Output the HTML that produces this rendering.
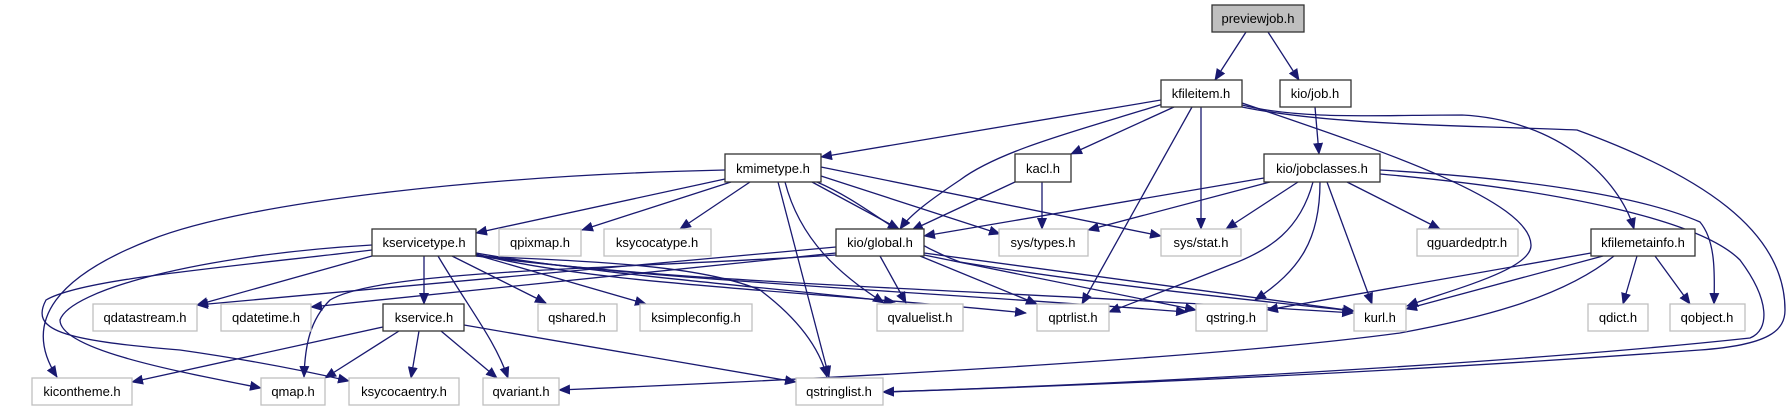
<!DOCTYPE html>
<html><head><meta charset="utf-8"><style>
html,body{margin:0;padding:0;background:#fff;width:1788px;height:411px;overflow:hidden}
svg text{font-family:"Liberation Sans",sans-serif;font-size:13px;fill:#000}
</style></head><body>
<svg width="1788" height="411" xmlns="http://www.w3.org/2000/svg">
<defs><marker id="a" markerWidth="12" markerHeight="10" refX="11" refY="5" orient="auto" markerUnits="userSpaceOnUse"><path d="M0,0 L12,5 L0,10 z" fill="#191970"/></marker></defs>
<g fill="none" stroke="#191970" stroke-width="1.3" marker-end="url(#a)">
<path d="M1246,32 L1215,80"/>
<path d="M1268,32 L1299,80"/>
<path d="M1315,107 L1319,154"/>
<path d="M1161,100 L821,157"/>
<path d="M1163,104 C1080,130 1000,150 960,180 C930,200 910,215 900,229"/>
<path d="M1174,107 L1071,154"/>
<path d="M1192,107 L1082,304"/>
<path d="M1201,107 L1201,229"/>
<path d="M1242,103 C1380,150 1530,200 1531,245 C1532,270 1450,290 1407,306"/>
<path d="M1242,105 C1300,120 1380,115 1462,115 C1560,120 1620,180 1634,229"/>
<path d="M1242,107 C1330,125 1450,125 1577,130 C1700,175 1785,230 1785,310 C1785,330 1770,345 1700,350 C1400,372 1100,385 883,392"/>
<path d="M1264,178 L924,236"/>
<path d="M1270,182 L1088,230"/>
<path d="M1298,182 L1226,229"/>
<path d="M1313,182 C1300,230 1270,250 1230,265 C1180,285 1140,300 1109,312"/>
<path d="M1320,182 C1320,240 1300,270 1255,300"/>
<path d="M1327,182 L1372,304"/>
<path d="M1347,182 L1440,229"/>
<path d="M1380,170 C1550,180 1650,200 1700,222 C1715,240 1715,270 1714,304"/>
<path d="M1380,174 C1560,190 1700,220 1740,260 C1770,300 1770,330 1750,338 C1500,365 1100,385 883,392"/>
<path d="M1591,253 L1267,310"/>
<path d="M1603,256 L1406,309"/>
<path d="M1614,256 C1560,300 1470,320 1400,333 C1200,360 800,380 559,390"/>
<path d="M1637,256 L1623,304"/>
<path d="M1655,256 L1690,304"/>
<path d="M1015,182 L912,230"/>
<path d="M1042,182 L1042,229"/>
<path d="M725,170 C500,175 250,200 150,240 C60,275 20,320 57,377"/>
<path d="M725,179 L476,233"/>
<path d="M731,182 L582,230"/>
<path d="M750,182 L680,229"/>
<path d="M778,182 L829,377"/>
<path d="M785,182 C800,240 840,275 884,303"/>
<path d="M812,182 L899,229"/>
<path d="M821,176 L1000,234"/>
<path d="M821,167 L1161,236"/>
<path d="M817,182 C870,205 900,240 960,262 C1100,285 1250,300 1354,311"/>
<path d="M424,256 L424,304"/>
<path d="M372,256 L197,305"/>
<path d="M372,245 C200,255 70,290 60,320 C60,350 180,372 261,388"/>
<path d="M372,250 C200,270 80,280 46,300 C30,330 60,340 180,350 C250,360 310,372 349,381"/>
<path d="M452,256 L546,303"/>
<path d="M480,256 L646,304"/>
<path d="M438,256 C470,310 495,340 508,378"/>
<path d="M476,256 C600,262 700,265 760,290 C800,320 820,350 827,377"/>
<path d="M476,253 C600,275 800,290 895,302"/>
<path d="M476,254 C600,285 800,290 1026,313"/>
<path d="M476,255 C650,280 900,290 1187,312"/>
<path d="M476,256 C700,285 1000,290 1353,313"/>
<path d="M836,247 L197,305"/>
<path d="M836,253 L311,307"/>
<path d="M836,255 C600,270 380,270 330,300 C310,320 305,345 304,377"/>
<path d="M880,256 L906,303"/>
<path d="M920,256 L1037,304"/>
<path d="M924,255 L1196,310"/>
<path d="M924,253 L1354,311"/>
<path d="M383,327 L132,382"/>
<path d="M399,331 L325,378"/>
<path d="M419,331 L411,378"/>
<path d="M441,331 L497,378"/>
<path d="M464,325 L796,382"/>
</g>
<g stroke-width="1.3">
<rect x="1212" y="5" width="92" height="27" fill="#bfbfbf" stroke="#333"/>
<g fill="#fff" stroke="#333">
<rect x="1161" y="80" width="81" height="27"/>
<rect x="1280" y="80" width="71" height="27"/>
<rect x="725" y="154" width="96" height="28"/>
<rect x="1015" y="154" width="56" height="28"/>
<rect x="1264" y="154" width="116" height="28"/>
<rect x="372" y="229" width="104" height="27"/>
<rect x="836" y="229" width="88" height="27"/>
<rect x="1591" y="229" width="104" height="27"/>
<rect x="383" y="304" width="81" height="27"/>
</g>
<g fill="#fff" stroke="#bfbfbf">
<rect x="499" y="229" width="82" height="27"/>
<rect x="604" y="229" width="107" height="27"/>
<rect x="999" y="229" width="89" height="27"/>
<rect x="1161" y="229" width="80" height="27"/>
<rect x="1417" y="229" width="101" height="27"/>
<rect x="93" y="304" width="104" height="27"/>
<rect x="221" y="304" width="90" height="27"/>
<rect x="538" y="304" width="79" height="27"/>
<rect x="640" y="304" width="112" height="27"/>
<rect x="877" y="304" width="86" height="27"/>
<rect x="1037" y="304" width="72" height="27"/>
<rect x="1196" y="304" width="71" height="27"/>
<rect x="1354" y="304" width="52" height="27"/>
<rect x="1588" y="304" width="60" height="27"/>
<rect x="1670" y="304" width="75" height="27"/>
<rect x="32" y="378" width="100" height="27"/>
<rect x="261" y="378" width="64" height="27"/>
<rect x="349" y="378" width="110" height="27"/>
<rect x="483" y="378" width="76" height="27"/>
<rect x="796" y="378" width="87" height="27"/>
</g></g>
<g text-anchor="middle">
<text x="1258" y="23">previewjob.h</text>
<text x="1201" y="98">kfileitem.h</text>
<text x="1315" y="98">kio/job.h</text>
<text x="773" y="173">kmimetype.h</text>
<text x="1043" y="173">kacl.h</text>
<text x="1322" y="173">kio/jobclasses.h</text>
<text x="424" y="247">kservicetype.h</text>
<text x="880" y="247">kio/global.h</text>
<text x="1643" y="247">kfilemetainfo.h</text>
<text x="540" y="247">qpixmap.h</text>
<text x="657" y="247">ksycocatype.h</text>
<text x="1043" y="247">sys/types.h</text>
<text x="1201" y="247">sys/stat.h</text>
<text x="1467" y="247">qguardedptr.h</text>
<text x="424" y="322">kservice.h</text>
<text x="145" y="322">qdatastream.h</text>
<text x="266" y="322">qdatetime.h</text>
<text x="577" y="322">qshared.h</text>
<text x="696" y="322">ksimpleconfig.h</text>
<text x="920" y="322">qvaluelist.h</text>
<text x="1073" y="322">qptrlist.h</text>
<text x="1231" y="322">qstring.h</text>
<text x="1380" y="322">kurl.h</text>
<text x="1618" y="322">qdict.h</text>
<text x="1707" y="322">qobject.h</text>
<text x="82" y="396">kicontheme.h</text>
<text x="293" y="396">qmap.h</text>
<text x="404" y="396">ksycocaentry.h</text>
<text x="521" y="396">qvariant.h</text>
<text x="839" y="396">qstringlist.h</text>
</g>
</svg>
</body></html>
